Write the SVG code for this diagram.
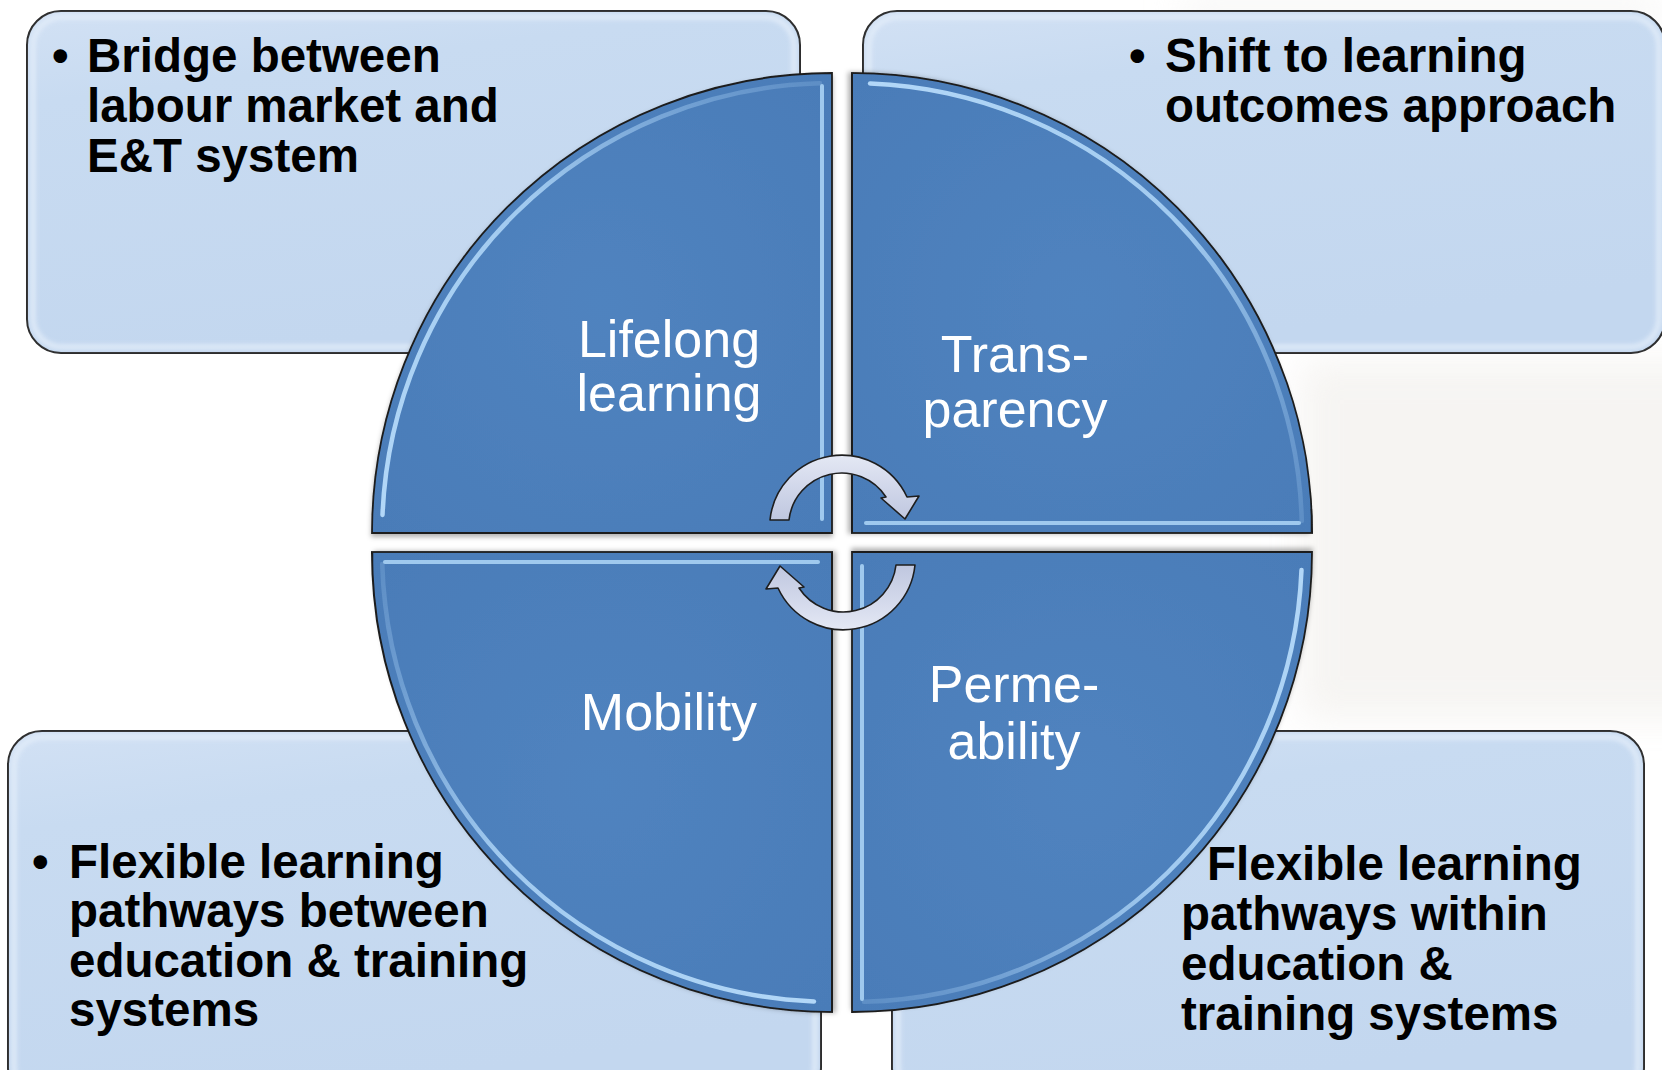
<svg xmlns="http://www.w3.org/2000/svg" width="1662" height="1070" viewBox="0 0 1662 1070">
  <defs>
    <style>
      .box { fill: url(#boxGrad); stroke: #262626; stroke-width: 2; }
      .boxGlow { fill: none; stroke: #e4eefa; stroke-width: 6; opacity: 0.75; filter: url(#soft); }
      .btxt { font-family: "Liberation Sans", Arial, sans-serif; font-weight: bold; font-size: 47.5px; fill: #000; }
      .quad { fill: url(#quadGrad); stroke: #1c1c1c; stroke-width: 1.8; filter: url(#shadow); }
      .hlArc { fill: none; stroke: url(#hlGrad); stroke-width: 4.5; stroke-linecap: round; filter: url(#soft2); }
      .hlEdge { fill: none; stroke: #a9d1f4; stroke-width: 4; stroke-linecap: round; stroke-opacity: 0.9; }
      .qtxt { font-family: "Liberation Sans", Arial, sans-serif; font-size: 52px; fill: #ffffff; text-anchor: middle; }
      .arrow { fill: url(#arrowGrad); stroke: #1e1e1e; stroke-width: 1.6; stroke-linejoin: round; }
    </style>
    <linearGradient id="boxGrad" x1="0" y1="0" x2="0.3" y2="1">
      <stop offset="0" stop-color="#d2e1f4"/>
      <stop offset="0.25" stop-color="#c8dbf1"/>
      <stop offset="1" stop-color="#c3d7ef"/>
    </linearGradient>
    <radialGradient id="quadGrad" cx="0.5" cy="0.5" r="0.7">
      <stop offset="0" stop-color="#5083bf"/>
      <stop offset="1" stop-color="#4a7cb8"/>
    </radialGradient>
    <linearGradient id="hlGrad" gradientUnits="userSpaceOnUse" x1="-450" y1="0" x2="-20" y2="-450">
      <stop offset="0" stop-color="#b3d8f8" stop-opacity="1"/>
      <stop offset="0.55" stop-color="#aad2f5" stop-opacity="0.9"/>
      <stop offset="0.85" stop-color="#9cc6ee" stop-opacity="0.45"/>
      <stop offset="1" stop-color="#9cc6ee" stop-opacity="0.25"/>
    </linearGradient>
    <linearGradient id="arrowGrad" x1="0" y1="0" x2="0" y2="1">
      <stop offset="0" stop-color="#e4e8f4"/>
      <stop offset="0.5" stop-color="#d1d7ea"/>
      <stop offset="1" stop-color="#bfc7df"/>
    </linearGradient>
    <filter id="soft" x="-5%" y="-5%" width="110%" height="110%">
      <feGaussianBlur stdDeviation="2"/>
    </filter>
    <filter id="soft2" x="-5%" y="-5%" width="110%" height="110%">
      <feGaussianBlur stdDeviation="0.7"/>
    </filter>
    <filter id="shadow" x="-5%" y="-5%" width="115%" height="115%">
      <feDropShadow dx="0" dy="3" stdDeviation="2.5" flood-color="#000" flood-opacity="0.3"/>
    </filter>
    <filter id="bgblur" x="-20%" y="-20%" width="140%" height="140%">
      <feGaussianBlur stdDeviation="18"/>
    </filter>
    <path id="quadShape" d="M0,0 L-460,0 A460,460 0 0 1 0,-460 Z"/>
    <path id="quadHlArc" d="M-449.5,-18 A450,450 0 0 1 -12,-449.8"/>
    <path id="quadHlEdge" d="M-10,-447 L-10,-14"/>
  </defs>

  <rect width="1662" height="1070" fill="#ffffff"/>

  <!-- faint background -->
  <g id="background" filter="url(#bgblur)" opacity="0.55">
    <rect x="1300" y="360" width="420" height="360" fill="#efece8"/>
    <rect x="1180" y="0" width="482" height="22" fill="#ecebe9"/>
  </g>

  <!-- text boxes -->
  <g id="box-top-left">
    <rect class="box" x="27" y="11" width="773" height="342" rx="34"/>
    <rect class="boxGlow" x="33" y="17" width="761" height="330" rx="29"/>
    <text class="btxt" x="52" y="72">•</text>
    <text class="btxt" x="87" y="72">Bridge between</text>
    <text class="btxt" x="87" y="122">labour market and</text>
    <text class="btxt" x="87" y="172">E&amp;T system</text>
  </g>
  <g id="box-top-right">
    <rect class="box" x="863" y="11" width="802" height="342" rx="34"/>
    <rect class="boxGlow" x="869" y="17" width="790" height="330" rx="29"/>
    <text class="btxt" x="1129" y="72">•</text>
    <text class="btxt" x="1165" y="72">Shift to learning</text>
    <text class="btxt" x="1165" y="122">outcomes approach</text>
  </g>
  <g id="box-bottom-left">
    <rect class="box" x="8" y="731" width="813" height="370" rx="34"/>
    <rect class="boxGlow" x="14" y="737" width="801" height="358" rx="29"/>
    <text class="btxt" x="32" y="878">•</text>
    <text class="btxt" x="69" y="878">Flexible learning</text>
    <text class="btxt" x="69" y="927">pathways between</text>
    <text class="btxt" x="69" y="977">education &amp; training</text>
    <text class="btxt" x="69" y="1026">systems</text>
  </g>
  <g id="box-bottom-right">
    <rect class="box" x="892" y="731" width="752" height="370" rx="34"/>
    <rect class="boxGlow" x="898" y="737" width="740" height="358" rx="29"/>
    <text class="btxt" x="1207" y="880">Flexible learning</text>
    <text class="btxt" x="1181" y="930">pathways within</text>
    <text class="btxt" x="1181" y="980">education &amp;</text>
    <text class="btxt" x="1181" y="1030">training systems</text>
  </g>

  <!-- quadrants -->
  <g id="quad-lifelong">
    <g transform="translate(832,533)">
      <use href="#quadShape" class="quad"/>
      <use href="#quadHlArc" class="hlArc"/>
      <use href="#quadHlEdge" class="hlEdge"/>
    </g>
    <text class="qtxt" x="669" y="357">Lifelong</text>
    <text class="qtxt" x="669" y="411">learning</text>
  </g>
  <g id="quad-transparency">
    <g transform="translate(852,533) rotate(90)">
      <use href="#quadShape" class="quad"/>
      <use href="#quadHlArc" class="hlArc"/>
      <use href="#quadHlEdge" class="hlEdge"/>
    </g>
    <text class="qtxt" x="1015" y="372">Trans-</text>
    <text class="qtxt" x="1015" y="427">parency</text>
  </g>
  <g id="quad-permeability">
    <g transform="translate(852,552) rotate(180)">
      <use href="#quadShape" class="quad"/>
      <use href="#quadHlArc" class="hlArc"/>
      <use href="#quadHlEdge" class="hlEdge"/>
    </g>
    <text class="qtxt" x="1014" y="702">Perme-</text>
    <text class="qtxt" x="1014" y="759">ability</text>
  </g>
  <g id="quad-mobility">
    <g transform="translate(832,552) rotate(270)">
      <use href="#quadShape" class="quad"/>
      <use href="#quadHlArc" class="hlArc"/>
      <use href="#quadHlEdge" class="hlEdge"/>
    </g>
    <text class="qtxt" x="669" y="730">Mobility</text>
  </g>

  <!-- connectors: circular arrows -->
  <g id="connectors">
    <path class="arrow" d="M770,520 A72,72 0 0 1 907,497 L919,496 L905,519 L881,498 L886,497 A53,53 0 0 0 789,520 Z"/>
    <path class="arrow" transform="rotate(180 842.5 542.5)" d="M770,520 A72,72 0 0 1 907,497 L919,496 L905,519 L881,498 L886,497 A53,53 0 0 0 789,520 Z"/>
  </g>
</svg>
